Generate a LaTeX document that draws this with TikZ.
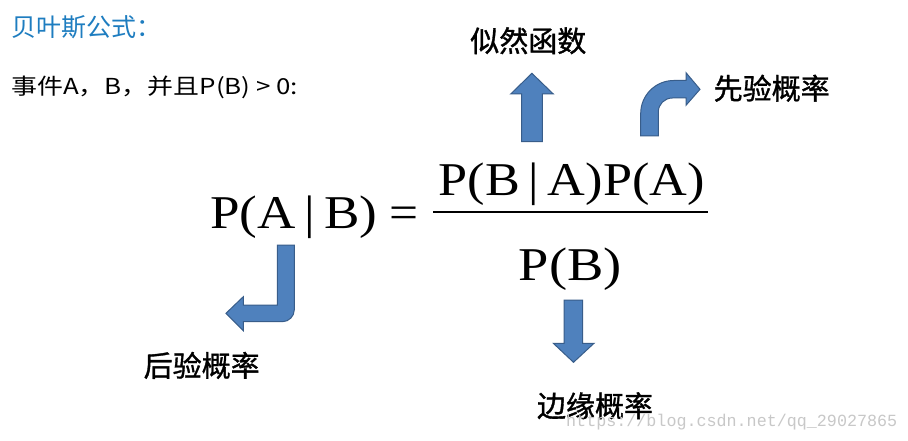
\documentclass[tikz,border=0pt]{standalone}
\usepackage{fontspec}
\usepackage{graphicx}
\setmainfont{Liberation Serif}
\newfontfamily\cjk{Noto Sans CJK SC}
\newfontfamily\cjkm[FakeBold=1.2]{Noto Sans CJK SC}
\newfontfamily\monofnt{Liberation Mono}
\definecolor{titleblue}{RGB}{30,125,192}
\definecolor{arrowfill}{RGB}{79,129,189}
\definecolor{arrowedge}{RGB}{56,93,138}
\definecolor{wmgray}{RGB}{200,200,200}
\tikzset{
  blockarrow/.style={fill=arrowfill, draw=arrowedge, line width=1pt, line join=miter},
  label/.style={inner sep=0pt, anchor=base, font=\cjkm\fontsize{29}{32}\selectfont},
  formula/.style={inner sep=0pt, anchor=base west, font=\fontsize{47}{52}\selectfont},
}
\begin{document}
\begin{tikzpicture}[x=1pt,y=-1pt]
\useasboundingbox[fill=white] (0,0) rectangle (908,441);
% header texts
\node[inner sep=0pt, anchor=base west, text=titleblue, font=\cjk\fontsize{25}{28}\selectfont] (title) at (11,37) {贝叶斯公式：};
\node[inner sep=0pt, anchor=base west, font=\cjk\fontsize{22}{26}\selectfont] (cond) at (11,95) {\resizebox{287pt}{\height}{事件A，B，并且P(B) > 0:}};
% formula
\node[formula] (lhs) at (210,228.3) {\resizebox{167pt}{\height}{P(A\,|\,B)}};
\node[formula, anchor=base] (eq) at (404,228.3) {\resizebox{29pt}{\height}{=}};
\node[formula] (num) at (438.5,196) {\resizebox{266pt}{\height}{P(B\,|\,A)P(A)}};
\node[formula] (den) at (518.5,280) {\resizebox{103pt}{\height}{P(B)}};
\coordinate (fl) at (433.3,211.7);
\coordinate (fr) at (708.3,211.7);
\draw[line width=2.4pt] (fl) -- (fr);
% labels
\node[label] (likelihood) at (528.3,51.8) {似然函数};
\node[label] (prior) at (771.7,99.3) {先验概率};
\node[label] (posterior) at (201.7,376.5) {后验概率};
\node[label] (evidence) at (595,416.8) {边缘概率};
% up arrow
\draw[blockarrow] (521.7,141.7) -- (521.7,94) -- (510.7,94) -- (531.9,73.3) -- (553.3,94) -- (542.3,94) -- (542.3,141.7) -- cycle;
% bent up-right arrow
\draw[blockarrow] (640.7,136) -- (640.7,113.5) arc (180:270:33) -- (686,80.5) -- (686,72.7) -- (700,89.3) -- (686,105.3) -- (686,98) -- (672.3,98) arc (270:180:14) -- (658.3,136) -- cycle;
% bent down-left arrow
\draw[blockarrow] (277.3,245) -- (294.3,245) -- (294.3,309.7) arc (0:90:12) -- (243.3,321.7) -- (243.3,330.7) -- (226,313.3) -- (243.3,296.7) -- (243.3,305) -- (277.3,305) -- cycle;
% down arrow
\draw[blockarrow] (564,300) -- (582.7,300) -- (582.7,343.3) -- (594,343.3) -- (573.5,362.3) -- (553.3,343.3) -- (564,343.3) -- cycle;
% watermark
\node[inner sep=0pt, anchor=base west, text=wmgray, font=\monofnt\fontsize{17}{20}\selectfont] (wm) at (566,426) {\resizebox{331pt}{\height}{https://blog.csdn.net/qq\_29027865}};
\end{tikzpicture}
\end{document}
